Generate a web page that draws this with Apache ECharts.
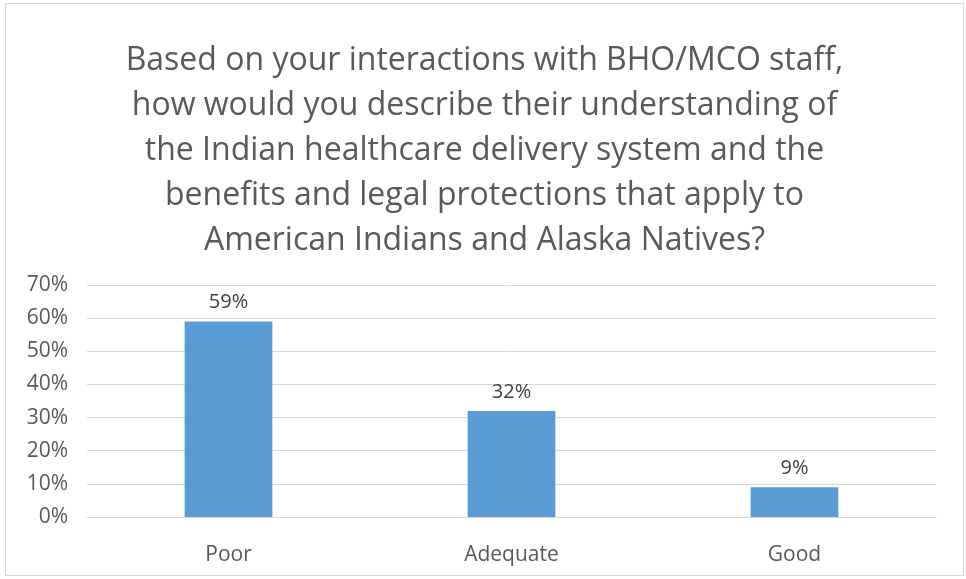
<!DOCTYPE html>
<html>
<head>
<meta charset="utf-8">
<script src="https://cdn.jsdelivr.net/npm/echarts@6/dist/echarts.min.js"></script>
<style>
  html, body { margin: 0; padding: 0; background: #fff; }
  #main { position: absolute; left: 5px; top: 3px; width: 959px; height: 573px; border: 1px solid #d9d9d9; box-sizing: border-box; }
</style>
</head>
<body>
<div id="main"></div>
<script>
var categories = ['Poor', 'Adequate', 'Good'];
var values = [59, 32, 9];
var titleText = 'Based on your interactions with BHO/MCO staff,\nhow would you describe their understanding of\nthe Indian healthcare delivery system and the\nbenefits and legal protections that apply to\nAmerican Indians and Alaska Natives?';

var chart = echarts.init(document.getElementById('main'));
var option = {
    animation: false,
    title: {
        text: titleText,
        left: 'center',
        top: 29,
        textStyle: {
            fontFamily: 'Open Sans',
            fontSize: 32,
            fontWeight: 'normal',
            color: '#595959',
            lineHeight: 45
        }
    },
    grid: {
        left: 81,
        right: 27,
        top: 281,
        bottom: 58
    },
    xAxis: {
        type: 'category',
        data: categories,
        axisLine: { show: true, lineStyle: { color: '#d9d9d9', width: 1 } },
        axisTick: { show: false },
        axisLabel: { color: '#595959', fontSize: 21, fontFamily: 'Open Sans', margin: 28 }
    },
    yAxis: {
        type: 'value',
        min: 0,
        max: 70,
        interval: 10,
        axisLine: { show: false },
        axisTick: { show: false },
        axisLabel: { color: '#595959', fontSize: 21, fontFamily: 'Open Sans', margin: 19, padding: [6, 0, 0, 0], formatter: '{value}%' },
        splitLine: { lineStyle: { color: '#d9d9d9', width: 1 } }
    },
    series: [{
        type: 'bar',
        data: values,
        barWidth: '31%',
        itemStyle: { color: '#5b9bd5' },
        label: {
            show: true,
            position: 'top',
            distance: 9,
            color: '#404040',
            fontSize: 20,
            fontFamily: 'Open Sans',
            formatter: '{c}%'
        }
    }]
};
chart.setOption(option);
</script>
</body>
</html>
